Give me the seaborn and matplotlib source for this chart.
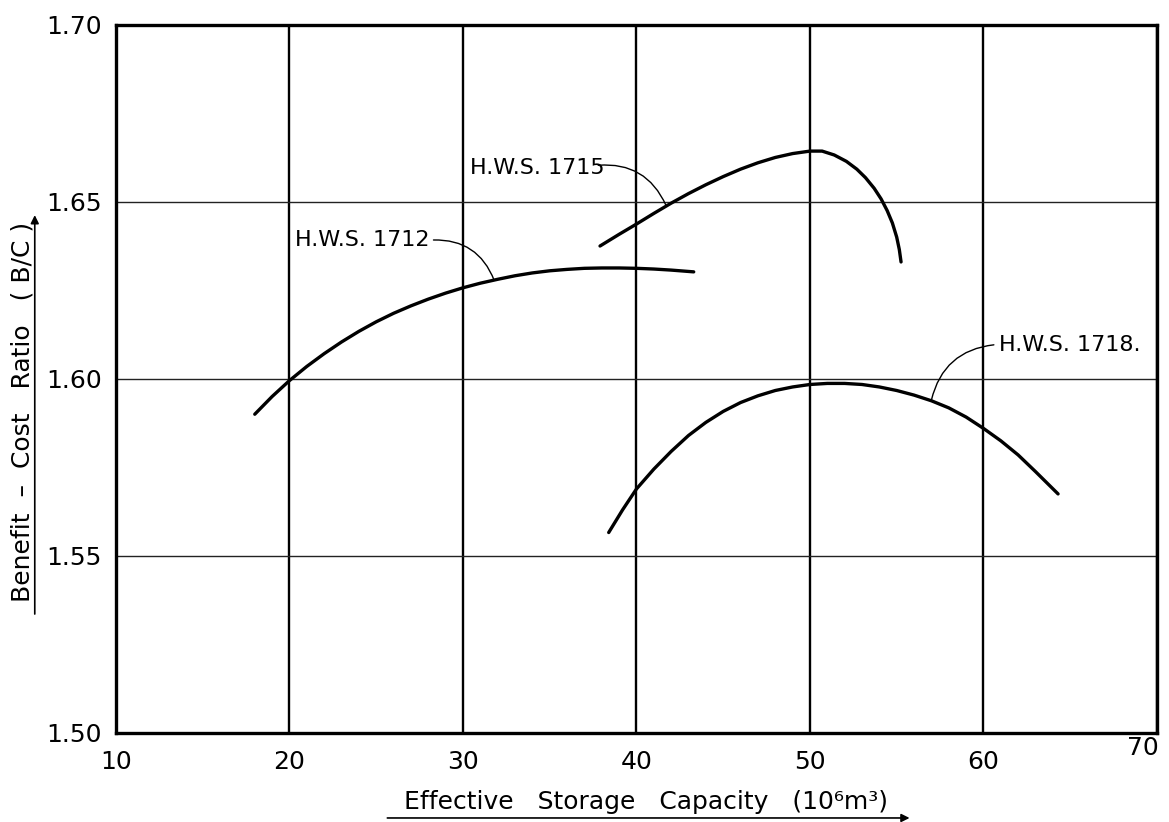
import numpy as np
import pandas as pd
import matplotlib
matplotlib.use("Agg")
import matplotlib.pyplot as plt
import matplotlib.transforms as mtransforms
from matplotlib.ticker import FormatStrFormatter
import seaborn as sns

# values
hws1712_x = [18.0, 19.0, 20.0, 21.0, 22.0, 23.0, 24.0, 25.0, 26.0, 27.0, 28.0, 29.0, 30.0,
             31.0, 32.0, 33.0, 34.0, 35.0, 36.0, 37.0, 38.0, 39.0, 40.0, 41.0, 42.0, 43.3]
hws1712_y = [1.5900, 1.5950, 1.5995, 1.6035, 1.6071, 1.6104, 1.6134, 1.6161, 1.6185, 1.6206,
             1.6225, 1.6242, 1.6257, 1.6270, 1.6281, 1.6291, 1.6299, 1.6305, 1.6309, 1.6312,
             1.6313, 1.6313, 1.6312, 1.6310, 1.6307, 1.6302]

hws1715_x = [37.9, 39.0, 40.0, 41.0, 42.0, 43.0, 44.0, 45.0, 46.0, 47.0, 48.0, 49.0, 50.0,
             50.7, 51.4, 52.1, 52.7, 53.2, 53.7, 54.1, 54.45, 54.75, 55.0, 55.15, 55.25]
hws1715_y = [1.6375, 1.6408, 1.6437, 1.6467, 1.6496, 1.6523, 1.6548, 1.6571, 1.6592, 1.6610,
             1.6625, 1.6636, 1.6643, 1.6643, 1.6632, 1.6614, 1.6592, 1.6568, 1.6538, 1.6508,
             1.6475, 1.6440, 1.6400, 1.6365, 1.6330]

hws1718_x = [38.4, 39.2, 40.0, 41.0, 42.0, 43.0, 44.0, 45.0, 46.0, 47.0, 48.0, 49.0, 50.0,
             51.0, 52.0, 53.0, 54.0, 55.0, 56.0, 57.0, 58.0, 59.0, 60.0, 61.0, 62.0, 63.0, 64.3]
hws1718_y = [1.5566, 1.5630, 1.5689, 1.5745, 1.5795, 1.5840, 1.5877, 1.5908, 1.5933, 1.5952,
             1.5967, 1.5977, 1.5984, 1.5987, 1.5987, 1.5984, 1.5977, 1.5967, 1.5954, 1.5938,
             1.5918, 1.5892, 1.5860, 1.5825, 1.5785, 1.5738, 1.5675]

series_names = ["H.W.S. 1712", "H.W.S. 1715", "H.W.S. 1718."]
x_ticks = [10, 20, 30, 40, 50, 60, 70]
y_ticks = [1.50, 1.55, 1.60, 1.65, 1.70]

df = pd.concat([
    pd.DataFrame({"capacity": hws1712_x, "bc": hws1712_y, "site": series_names[0]}),
    pd.DataFrame({"capacity": hws1715_x, "bc": hws1715_y, "site": series_names[1]}),
    pd.DataFrame({"capacity": hws1718_x, "bc": hws1718_y, "site": series_names[2]}),
])

sns.set_style("white")
plt.rcParams["font.family"] = ["DejaVu Sans"]
plt.rcParams["text.color"] = "black"
plt.rcParams["axes.labelcolor"] = "black"

fig = plt.figure(figsize=(11.69, 8.22), dpi=100)
ax = fig.add_axes([0.0992, 0.1083, 0.9897 - 0.0992, 0.970 - 0.1083])

sns.lineplot(data=df, x="capacity", y="bc", hue="site", units="site",
             estimator=None, sort=False, palette=["black"] * 3,
             linewidth=2.4, legend=False, ax=ax, zorder=3)

ax.set_xlim(10, 70)
ax.set_ylim(1.50, 1.70)
ax.set_xticks(x_ticks)
ax.set_yticks(y_ticks)
ax.yaxis.set_major_formatter(FormatStrFormatter("%.2f"))
ax.tick_params(length=0, labelsize=18, colors="black")
ax.tick_params(axis="y", pad=10)
ax.tick_params(axis="x", pad=12)

# the last x label sits a little left of and above the frame corner in the scan
lbl70 = ax.xaxis.get_major_ticks()[-1].label1
lbl70.set_transform(lbl70.get_transform() +
                    mtransforms.ScaledTranslation(-10 / 72, 10 / 72, fig.dpi_scale_trans))

ax.xaxis.grid(True, color="black", linewidth=1.7)
ax.yaxis.grid(True, color="#222222", linewidth=1.0)
for s in ax.spines.values():
    s.set_visible(True)
    s.set_color("black")
    s.set_linewidth(2.4)

# axis titles, drawn with the engineering-style underline arrows
ax.set_xlabel("Effective   Storage   Capacity   (10⁶m³)", fontsize=18, va="center")
ax.xaxis.set_label_coords(0.509, -0.097)
ax.set_ylabel("Benefit  \u2013  Cost   Ratio   ( B/C )", fontsize=18, va="center")
ax.yaxis.set_label_coords(-0.090, 0.453)

ax.annotate("", xy=(0.765, -0.120), xytext=(0.258, -0.120), xycoords="axes fraction",
            arrowprops=dict(arrowstyle="-|>", color="black", lw=1.2, mutation_scale=12),
            annotation_clip=False)
ax.annotate("", xy=(-0.078, 0.735), xytext=(-0.078, 0.164), xycoords="axes fraction",
            arrowprops=dict(arrowstyle="-|>", color="black", lw=1.2, mutation_scale=12),
            annotation_clip=False)

# curve labels with curved leaders
labels = [
    (series_names[0], (20.3, 1.6392), (28.3, 1.6392), (31.8, 1.6278), -0.35),
    (series_names[1], (30.4, 1.6594), (37.8, 1.6603), (41.7, 1.6490), -0.35),
    (series_names[2], (60.9, 1.6096), (60.6, 1.6096), (57.0, 1.5940), 0.35),
]
for text, pos, start, end, rad in labels:
    ax.text(pos[0], pos[1], text, fontsize=16, ha="left", va="center", color="black")
    ax.annotate("", xy=end, xytext=start,
                arrowprops=dict(arrowstyle="-", color="black", lw=1.0,
                                connectionstyle=f"arc3,rad={rad}",
                                shrinkA=0, shrinkB=0))

fig.savefig("out.png", dpi=100)
